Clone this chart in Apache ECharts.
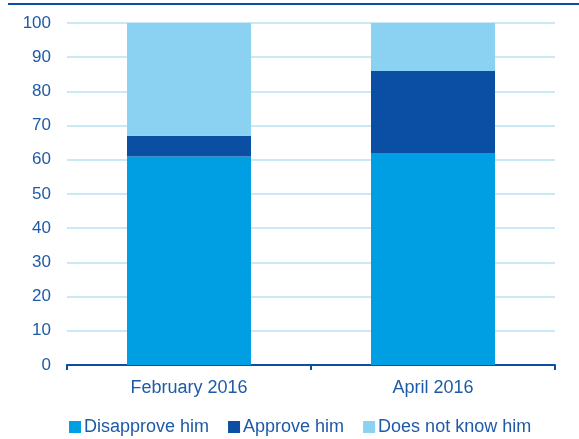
<!DOCTYPE html>
<html>
<head>
<meta charset="utf-8">
<script src="https://cdn.jsdelivr.net/npm/echarts@6/dist/echarts.min.js"></script>
<style>
  html, body { margin: 0; padding: 0; background: #fff; }
  #chart { width: 579px; height: 439px; }
</style>
</head>
<body>
<div id="chart"></div>
<script>
// Survey periods and the three answer shares (percent, stacked to 100)
const categories = ['February 2016', 'April 2016'];
const disapprove = [61, 62];
const approve = [6, 24];
const dontKnow = [33, 14];

const textColor = '#1f5aa8';
const font = 'Liberation Sans, Arial, sans-serif';

const chart = echarts.init(document.getElementById('chart'), null, { renderer: 'canvas' });

const bar = (name, data, color) => ({
  name, type: 'bar', stack: 'total', data,
  barWidth: 124,
  itemStyle: { color },
  emphasis: { disabled: true }
});

chart.setOption({
  animation: false,
  grid: { left: 67, right: 24, top: 23, bottom: 74 },
  // thin rule across the top of the figure
  graphic: [{
    type: 'rect', left: 8, top: 3, shape: { width: 571, height: 2 },
    style: { fill: '#0a4fa3' }, silent: true
  }],
  legend: {
    top: 413, left: 64,
    icon: 'rect', itemWidth: 12, itemHeight: 12, itemGap: 19,
    textStyle: { color: textColor, fontSize: 18, fontFamily: font, padding: [0, 0, 0, -2] },
    data: ['Disapprove him', 'Approve him', 'Does not know him']
  },
  xAxis: {
    type: 'category', data: categories,
    axisLine: { lineStyle: { color: '#0a4fa3', width: 2 } },
    axisTick: { show: true, length: 5, lineStyle: { color: '#0a4fa3', width: 2 } },
    axisLabel: { color: textColor, fontSize: 18, fontFamily: font, margin: 14 }
  },
  yAxis: {
    type: 'value', min: 0, max: 100, interval: 10,
    axisLine: { show: false }, axisTick: { show: false },
    axisLabel: { color: textColor, fontSize: 17, fontFamily: font, margin: 16 },
    splitLine: { lineStyle: { color: '#c9e9f7', width: 2 } }
  },
  series: [
    bar('Disapprove him', disapprove, '#009fe3'),
    bar('Approve him', approve, '#0a4fa3'),
    bar('Does not know him', dontKnow, '#8bd1f2')
  ]
});
</script>
</body>
</html>
